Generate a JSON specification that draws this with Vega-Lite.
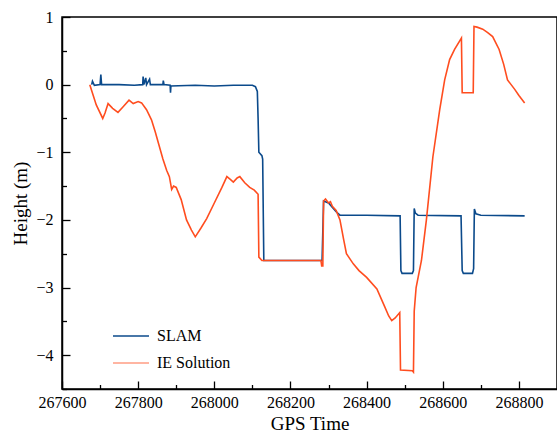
{
  "$schema": "https://vega.github.io/schema/vega-lite/v6.json",
  "width": 495,
  "height": 372,
  "autosize": {"type": "none"},
  "padding": {"left": 62, "top": 17, "right": 0, "bottom": 48},
  "background": "white",
  "config": {
    "font": "Liberation Serif",
    "view": {"stroke": "black", "strokeWidth": 1.5},
    "axis": {
      "domainColor": "black",
      "domainWidth": 1.5,
      "tickColor": "black",
      "tickWidth": 1.3,
      "labelColor": "black",
      "labelFont": "Liberation Serif",
      "labelFontSize": 16,
      "titleFont": "Liberation Serif",
      "titleFontSize": 19,
      "titleFontWeight": "normal",
      "titleColor": "black",
      "grid": false
    }
  },
  "data": {
    "values": [
      {"s": "SLAM", "t": 267678, "h": 0.0},
      {"s": "SLAM", "t": 267680, "h": 0.05},
      {"s": "SLAM", "t": 267685, "h": -0.01},
      {"s": "SLAM", "t": 267700, "h": 0.0},
      {"s": "SLAM", "t": 267702, "h": 0.15},
      {"s": "SLAM", "t": 267704, "h": 0.0},
      {"s": "SLAM", "t": 267750, "h": 0.0},
      {"s": "SLAM", "t": 267790, "h": -0.01},
      {"s": "SLAM", "t": 267812, "h": 0.0},
      {"s": "SLAM", "t": 267813, "h": 0.12},
      {"s": "SLAM", "t": 267815, "h": 0.0},
      {"s": "SLAM", "t": 267820, "h": 0.1},
      {"s": "SLAM", "t": 267822, "h": 0.0},
      {"s": "SLAM", "t": 267830, "h": 0.08},
      {"s": "SLAM", "t": 267832, "h": 0.0},
      {"s": "SLAM", "t": 267865, "h": 0.0},
      {"s": "SLAM", "t": 267866, "h": 0.06},
      {"s": "SLAM", "t": 267868, "h": 0.0},
      {"s": "SLAM", "t": 267884, "h": -0.01},
      {"s": "SLAM", "t": 267885, "h": -0.12},
      {"s": "SLAM", "t": 267886, "h": -0.02},
      {"s": "SLAM", "t": 267950, "h": -0.01},
      {"s": "SLAM", "t": 268000, "h": -0.02},
      {"s": "SLAM", "t": 268050, "h": -0.01},
      {"s": "SLAM", "t": 268100, "h": -0.01},
      {"s": "SLAM", "t": 268108, "h": -0.03},
      {"s": "SLAM", "t": 268113, "h": -0.1},
      {"s": "SLAM", "t": 268115, "h": -0.5},
      {"s": "SLAM", "t": 268117, "h": -1.0},
      {"s": "SLAM", "t": 268125, "h": -1.05},
      {"s": "SLAM", "t": 268127, "h": -1.1},
      {"s": "SLAM", "t": 268130, "h": -2.6},
      {"s": "SLAM", "t": 268283, "h": -2.6},
      {"s": "SLAM", "t": 268287, "h": -1.72},
      {"s": "SLAM", "t": 268300, "h": -1.75},
      {"s": "SLAM", "t": 268320, "h": -1.88},
      {"s": "SLAM", "t": 268330, "h": -1.93},
      {"s": "SLAM", "t": 268400, "h": -1.93},
      {"s": "SLAM", "t": 268488, "h": -1.94},
      {"s": "SLAM", "t": 268490, "h": -2.75},
      {"s": "SLAM", "t": 268493, "h": -2.79},
      {"s": "SLAM", "t": 268520, "h": -2.79},
      {"s": "SLAM", "t": 268523, "h": -2.75},
      {"s": "SLAM", "t": 268525, "h": -1.83},
      {"s": "SLAM", "t": 268528, "h": -1.9},
      {"s": "SLAM", "t": 268535, "h": -1.93},
      {"s": "SLAM", "t": 268648, "h": -1.94},
      {"s": "SLAM", "t": 268651, "h": -2.75},
      {"s": "SLAM", "t": 268654, "h": -2.79},
      {"s": "SLAM", "t": 268678, "h": -2.79},
      {"s": "SLAM", "t": 268681, "h": -2.72},
      {"s": "SLAM", "t": 268683, "h": -1.84},
      {"s": "SLAM", "t": 268687, "h": -1.91},
      {"s": "SLAM", "t": 268700, "h": -1.93},
      {"s": "SLAM", "t": 268815, "h": -1.94},
      {"s": "IE Solution", "t": 267673, "h": 0.0},
      {"s": "IE Solution", "t": 267690, "h": -0.3},
      {"s": "IE Solution", "t": 267707, "h": -0.5},
      {"s": "IE Solution", "t": 267713, "h": -0.42},
      {"s": "IE Solution", "t": 267721, "h": -0.28},
      {"s": "IE Solution", "t": 267733, "h": -0.35},
      {"s": "IE Solution", "t": 267747, "h": -0.41},
      {"s": "IE Solution", "t": 267760, "h": -0.33},
      {"s": "IE Solution", "t": 267776, "h": -0.23},
      {"s": "IE Solution", "t": 267787, "h": -0.28},
      {"s": "IE Solution", "t": 267800, "h": -0.25},
      {"s": "IE Solution", "t": 267809, "h": -0.27},
      {"s": "IE Solution", "t": 267822, "h": -0.37},
      {"s": "IE Solution", "t": 267835, "h": -0.52},
      {"s": "IE Solution", "t": 267845, "h": -0.7},
      {"s": "IE Solution", "t": 267855, "h": -0.9},
      {"s": "IE Solution", "t": 267865, "h": -1.1},
      {"s": "IE Solution", "t": 267875, "h": -1.27},
      {"s": "IE Solution", "t": 267882, "h": -1.36},
      {"s": "IE Solution", "t": 267888, "h": -1.55},
      {"s": "IE Solution", "t": 267893, "h": -1.5},
      {"s": "IE Solution", "t": 267900, "h": -1.52},
      {"s": "IE Solution", "t": 267913, "h": -1.7},
      {"s": "IE Solution", "t": 267927, "h": -2.0},
      {"s": "IE Solution", "t": 267940, "h": -2.15},
      {"s": "IE Solution", "t": 267950, "h": -2.25},
      {"s": "IE Solution", "t": 267965, "h": -2.12},
      {"s": "IE Solution", "t": 267980, "h": -1.98},
      {"s": "IE Solution", "t": 268000, "h": -1.75},
      {"s": "IE Solution", "t": 268020, "h": -1.52},
      {"s": "IE Solution", "t": 268033, "h": -1.36},
      {"s": "IE Solution", "t": 268042, "h": -1.4},
      {"s": "IE Solution", "t": 268050, "h": -1.44},
      {"s": "IE Solution", "t": 268060, "h": -1.38},
      {"s": "IE Solution", "t": 268067, "h": -1.36},
      {"s": "IE Solution", "t": 268080, "h": -1.45},
      {"s": "IE Solution", "t": 268093, "h": -1.52},
      {"s": "IE Solution", "t": 268105, "h": -1.56},
      {"s": "IE Solution", "t": 268115, "h": -1.62},
      {"s": "IE Solution", "t": 268117, "h": -2.55},
      {"s": "IE Solution", "t": 268125, "h": -2.6},
      {"s": "IE Solution", "t": 268280, "h": -2.6},
      {"s": "IE Solution", "t": 268282, "h": -2.68},
      {"s": "IE Solution", "t": 268285, "h": -2.68},
      {"s": "IE Solution", "t": 268287, "h": -1.72},
      {"s": "IE Solution", "t": 268292, "h": -1.69},
      {"s": "IE Solution", "t": 268300, "h": -1.75},
      {"s": "IE Solution", "t": 268305, "h": -1.73},
      {"s": "IE Solution", "t": 268310, "h": -1.8},
      {"s": "IE Solution", "t": 268320, "h": -1.86},
      {"s": "IE Solution", "t": 268330, "h": -2.0},
      {"s": "IE Solution", "t": 268340, "h": -2.3},
      {"s": "IE Solution", "t": 268347, "h": -2.5},
      {"s": "IE Solution", "t": 268365, "h": -2.65},
      {"s": "IE Solution", "t": 268380, "h": -2.75},
      {"s": "IE Solution", "t": 268400, "h": -2.85},
      {"s": "IE Solution", "t": 268427, "h": -3.02},
      {"s": "IE Solution", "t": 268448, "h": -3.29},
      {"s": "IE Solution", "t": 268458, "h": -3.42},
      {"s": "IE Solution", "t": 268466, "h": -3.49},
      {"s": "IE Solution", "t": 268475, "h": -3.45},
      {"s": "IE Solution", "t": 268487, "h": -3.37},
      {"s": "IE Solution", "t": 268489, "h": -4.22},
      {"s": "IE Solution", "t": 268520, "h": -4.23},
      {"s": "IE Solution", "t": 268523, "h": -4.25},
      {"s": "IE Solution", "t": 268525, "h": -3.35},
      {"s": "IE Solution", "t": 268530, "h": -3.0},
      {"s": "IE Solution", "t": 268544, "h": -2.6},
      {"s": "IE Solution", "t": 268557, "h": -2.0},
      {"s": "IE Solution", "t": 268574, "h": -1.07},
      {"s": "IE Solution", "t": 268592, "h": -0.37},
      {"s": "IE Solution", "t": 268605, "h": 0.07},
      {"s": "IE Solution", "t": 268618, "h": 0.37},
      {"s": "IE Solution", "t": 268631, "h": 0.52},
      {"s": "IE Solution", "t": 268649, "h": 0.69},
      {"s": "IE Solution", "t": 268651, "h": -0.12},
      {"s": "IE Solution", "t": 268680, "h": -0.12},
      {"s": "IE Solution", "t": 268682, "h": 0.86},
      {"s": "IE Solution", "t": 268690, "h": 0.85},
      {"s": "IE Solution", "t": 268705, "h": 0.82},
      {"s": "IE Solution", "t": 268718, "h": 0.77},
      {"s": "IE Solution", "t": 268731, "h": 0.71},
      {"s": "IE Solution", "t": 268748, "h": 0.52},
      {"s": "IE Solution", "t": 268760, "h": 0.3},
      {"s": "IE Solution", "t": 268770, "h": 0.07},
      {"s": "IE Solution", "t": 268789, "h": -0.07},
      {"s": "IE Solution", "t": 268800, "h": -0.16},
      {"s": "IE Solution", "t": 268815, "h": -0.27}
    ]
  },
  "mark": {"type": "line", "strokeWidth": 1.6, "clip": true},
  "encoding": {
    "x": {
      "field": "t",
      "type": "quantitative",
      "scale": {"domain": [267600, 268900], "nice": false, "zero": false},
      "axis": {
        "title": "GPS Time",
        "values": [267600, 267700, 267800, 267900, 268000, 268100, 268200, 268300, 268400, 268500, 268600, 268700, 268800],
        "format": "d",
        "labelExpr": "datum.value % 200 === 0 ? datum.label : ''",
        "tickSize": {"condition": {"test": "datum.value % 200 === 0", "value": -8}, "value": -4.5},
        "labelFont": "Liberation Serif",
        "labelPadding": 13,
        "labelFlush": false,
        "titlePadding": 4
      }
    },
    "y": {
      "field": "h",
      "type": "quantitative",
      "scale": {"domain": [-4.5, 1], "nice": false, "zero": false},
      "axis": {
        "title": "Height (m)",
        "values": [-4.5, -4, -3.5, -3, -2.5, -2, -1.5, -1, -0.5, 0, 0.5, 1],
        "labelExpr": "datum.value % 1 === 0 ? format(datum.value, 'd') : ''",
        "tickSize": {"condition": {"test": "datum.value % 1 === 0", "value": -8}, "value": -4.5},
        "labelFont": "Liberation Serif",
        "labelPadding": 17,
        "labelFlush": false,
        "titlePadding": 5
      }
    },
    "color": {
      "field": "s",
      "type": "nominal",
      "scale": {"domain": ["SLAM", "IE Solution"], "range": ["#0b4a8b", "#ff4d1f"]},
      "legend": {
        "title": null,
        "orient": "none",
        "legendX": 50,
        "legendY": 300,
        "symbolType": "stroke",
        "symbolSize": 1296,
        "symbolStrokeWidth": 1.5,
        "labelFont": "Liberation Serif",
        "labelFontSize": 16,
        "labelColor": "black",
        "labelOffset": 7,
        "rowPadding": -32,
        "padding": 0,
        "encode": {
          "symbols": {
            "update": {
              "strokeOpacity": {"signal": "datum.value === 'IE Solution' ? 0.55 : 1"}
            }
          }
        }
      }
    }
  }
}
